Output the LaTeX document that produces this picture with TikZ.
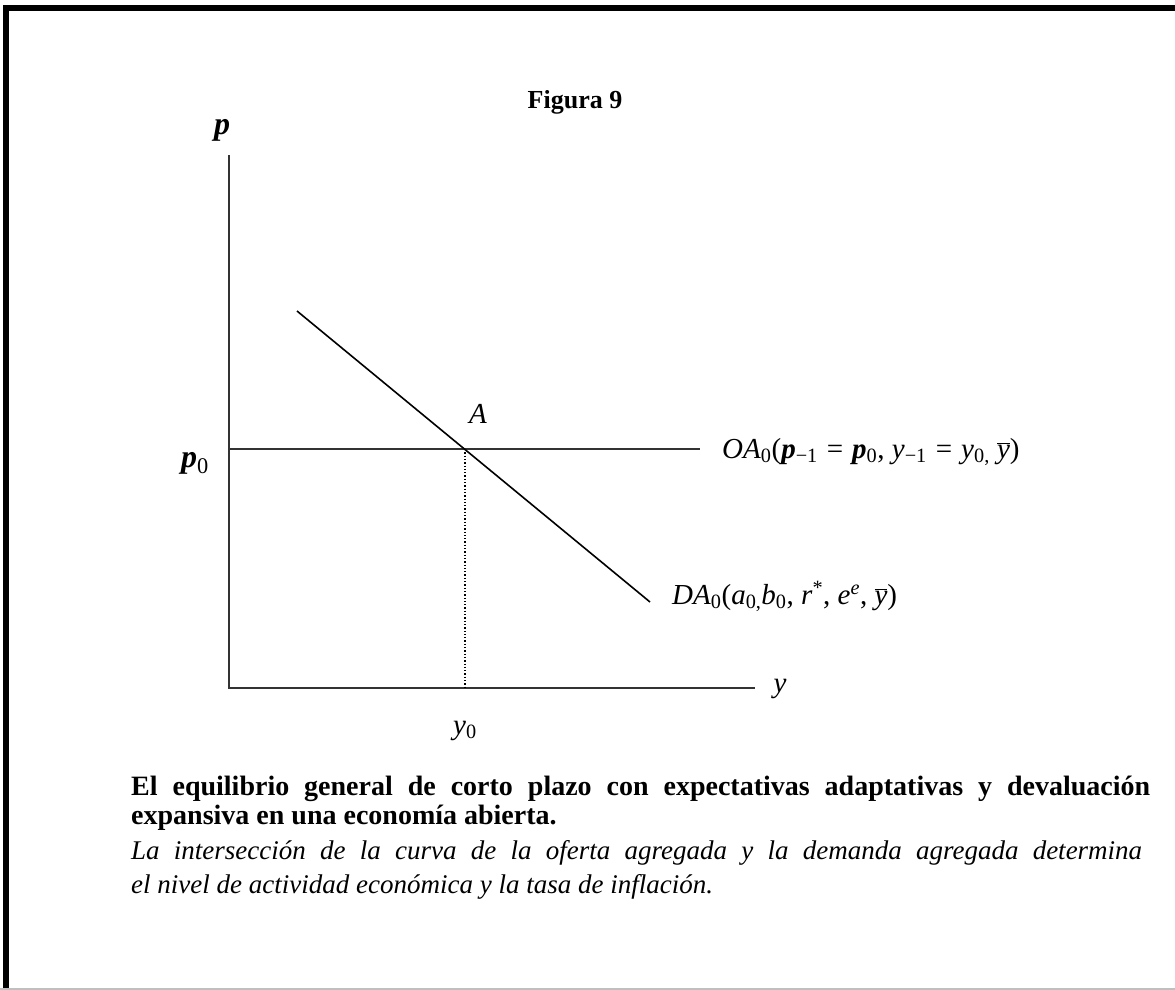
\documentclass[tikz,border=0pt]{standalone}
\usepackage{fontspec}
\setmainfont{Liberation Serif}
\newcommand{\ybar}{\ensuremath{\overline{\mbox{\textit{y}}}}}
\newcommand{\bpi}{\textbf{\textit{p}}}
\newcommand{\sbx}[1]{\textsubscript{#1}}
\newcommand{\spx}[1]{\textsuperscript{#1}}
\newcommand{\eqs}{\hspace{9pt}=\hspace{9pt}}
\begin{document}
\begin{tikzpicture}[x=1pt,y=-1pt,
  axis/.style={draw=black!80, line width=2pt},
  curve/.style={draw=black, line width=1.6pt},
  lbl/.style={inner sep=0pt, font=\fontsize{29}{32}\selectfont},
  plbl/.style={inner sep=0pt, font=\fontsize{32}{36}\selectfont},
  txt/.style={inner sep=0pt, anchor=base west}]
\useasboundingbox (0,0) rectangle (1175,990);
\draw[line width=6pt, line join=miter] (5.5,990) -- (5.5,8.5) -- (1175,8.5);
\draw[black!25, line width=1.5pt] (0,989) -- (1175,989);

\node[inner sep=0pt, anchor=base, font=\fontsize{26}{30}\selectfont\bfseries] (title) at (575,108) {Figura 9};

\coordinate (O) at (229,688);
\coordinate (ytop) at (229,155);
\coordinate (xend) at (755,688);
\draw[axis] (ytop) -- (O) -- (xend);
\coordinate (p0L) at (229,449);
\coordinate (OAend) at (700,449);
\draw[axis] (p0L) -- (OAend);
\coordinate (DAs) at (297,311);
\coordinate (DAe) at (650,602);
\draw[curve] (DAs) -- (DAe);
\coordinate (E) at (465,449);
\coordinate (Ey) at (465,688);
\draw[dotted, line width=1.3pt] (E) -- (Ey);

\node[plbl, anchor=base] (plab) at (222,134) {\bpi};
\node[plbl, anchor=base east] (p0lab) at (209,467) {\bpi\sbx{0}};
\node[lbl, anchor=base] (Alab) at (478,423) {\textit{A}};
\node[lbl, anchor=base] (ylab) at (780,692) {\textit{y}};
\node[lbl, anchor=base west] (y0lab) at (453,734) {\textit{y}\sbx{0}};
\node[lbl, anchor=base west] (OAlab) at (722,458)
  {\textit{OA}\sbx{0}(\bpi\sbx{−1}\eqs\bpi\sbx{0}, \textit{y}\sbx{−1}\eqs\textit{y}\sbx{0,} \ybar)};
\node[lbl, anchor=base west] (DAlab) at (672,604)
  {\textit{DA}\sbx{0}(\textit{a}\sbx{0,}\textit{b}\sbx{0}, \textit{r}\spx{*}, \textit{e}\spx{\textit{e}}, \ybar)};

\node[txt, font=\fontsize{28}{32}\selectfont\bfseries] (c1) at (131,795)
  {\hbox to 1019pt{El equilibrio general de corto plazo con expectativas adaptativas y devaluación}};
\node[txt, font=\fontsize{28}{32}\selectfont\bfseries] (c2) at (131,824)
  {expansiva en una economía abierta.};
\node[txt, font=\fontsize{27}{32}\selectfont\itshape] (c3) at (131,859)
  {\hbox to 1011pt{La intersección de la curva de la oferta agregada y la demanda agregada determina}};
\node[txt, font=\fontsize{27}{32}\selectfont\itshape] (c4) at (131,893)
  {el nivel de actividad económica y la tasa de inflación.};
\end{tikzpicture}
\end{document}
